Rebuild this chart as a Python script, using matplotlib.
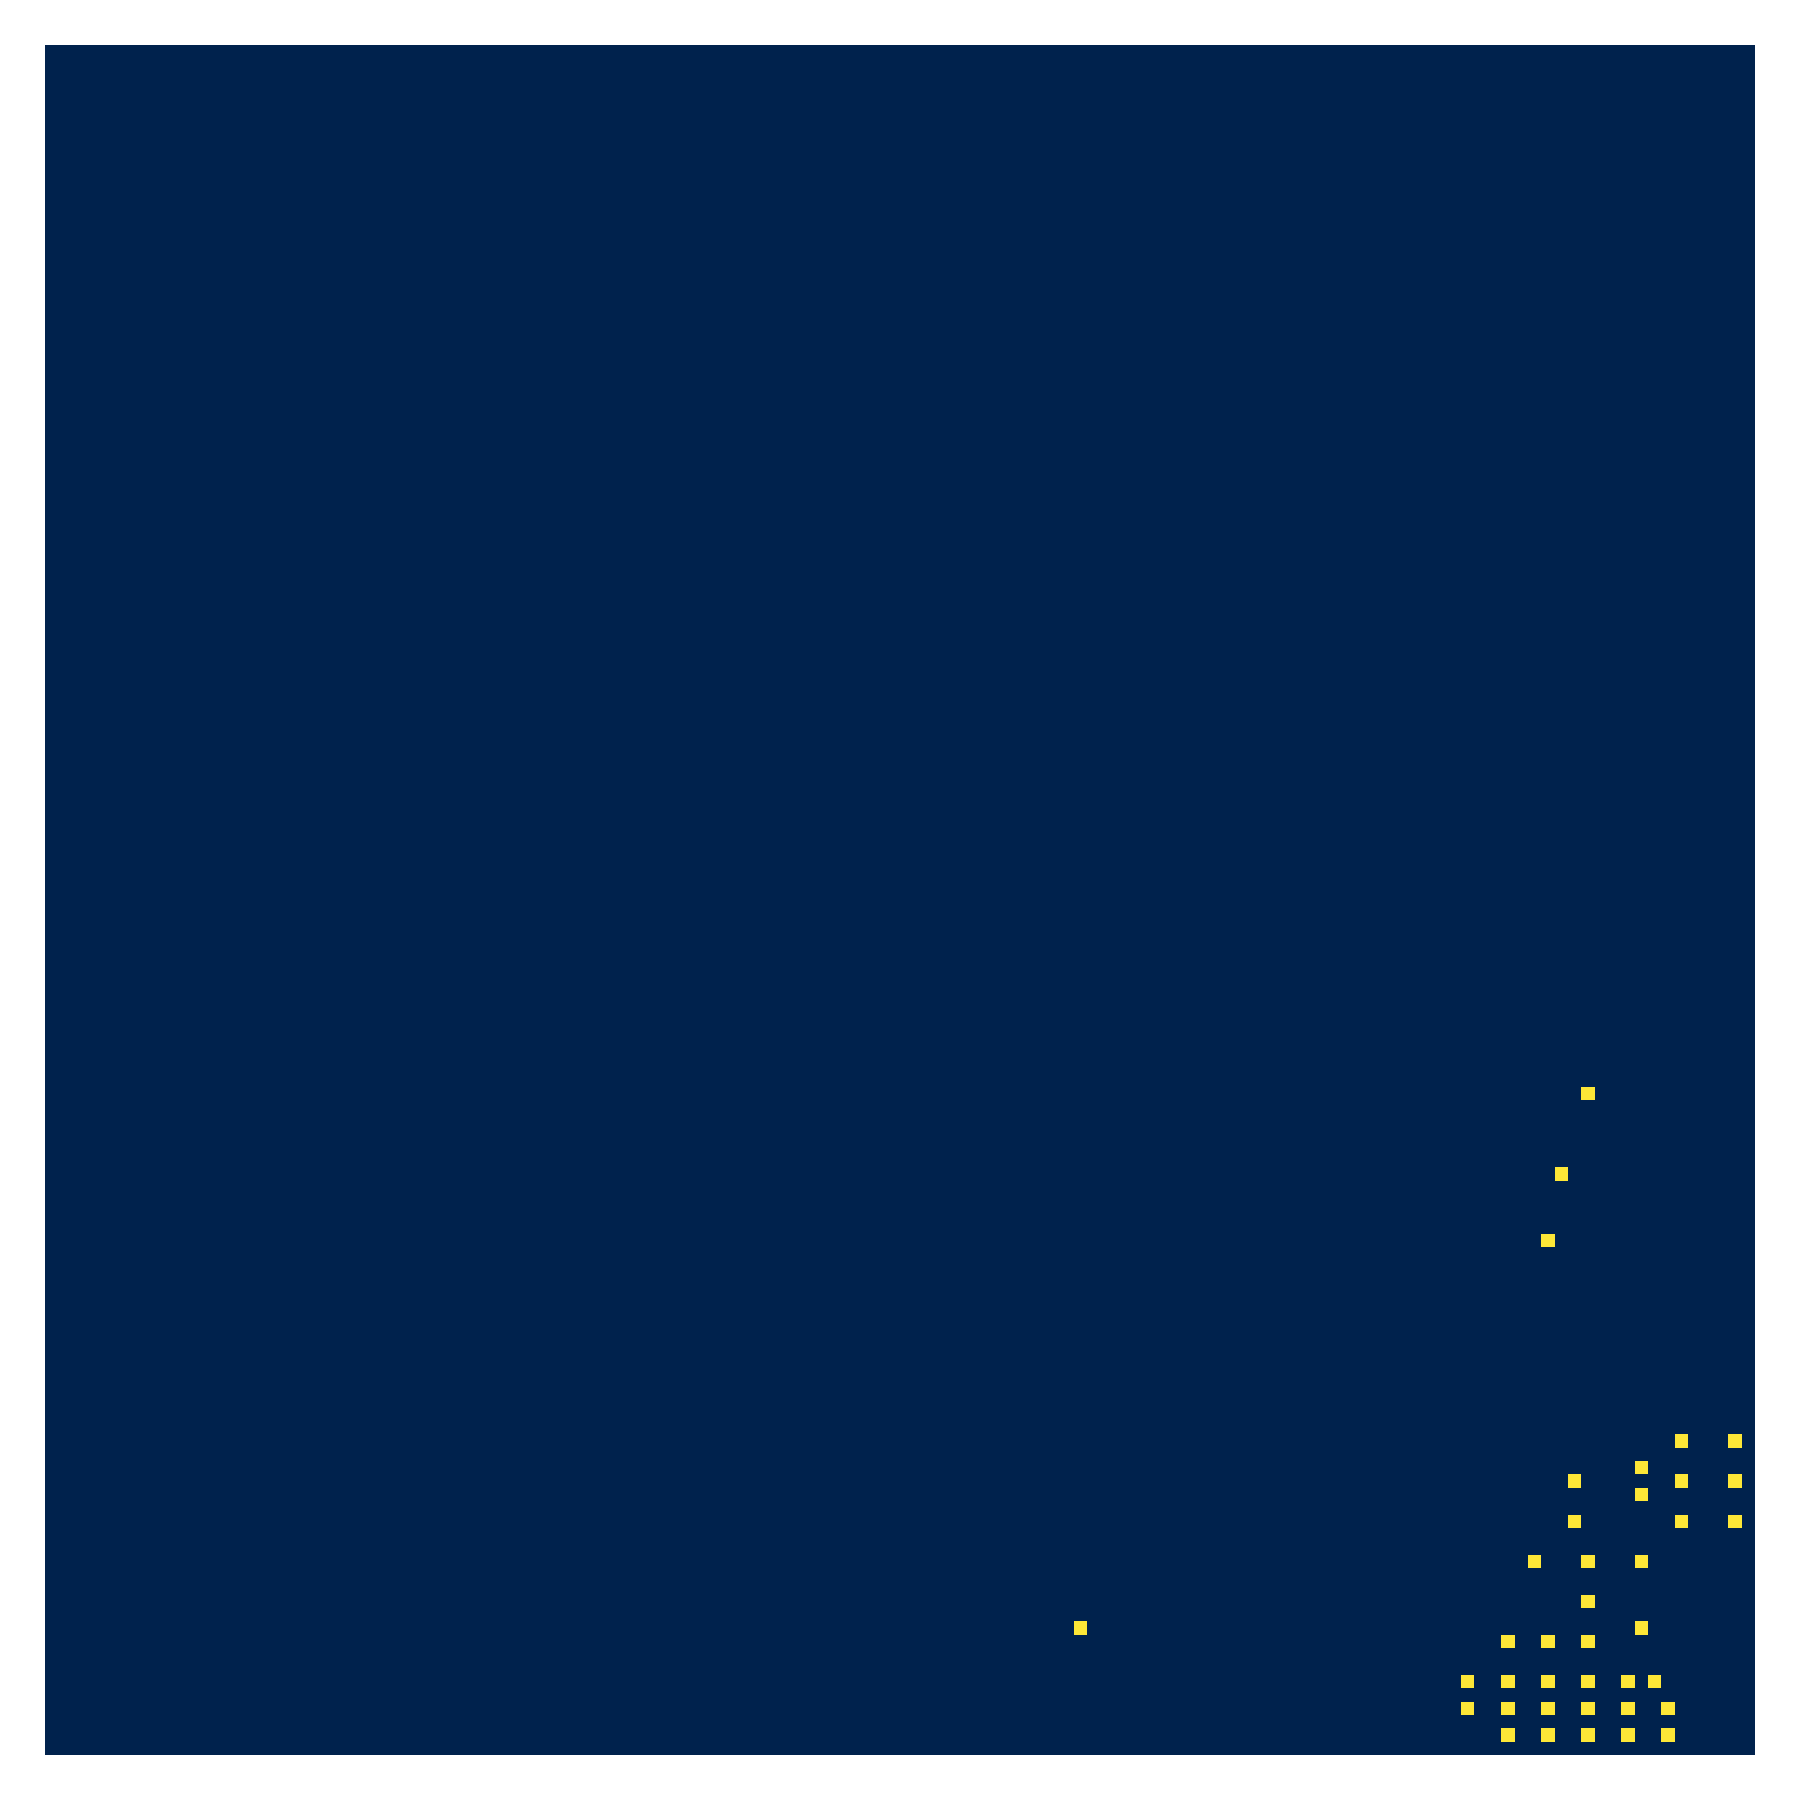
import numpy as np
import matplotlib
matplotlib.use("Agg")
import matplotlib.pyplot as plt

n_size = 128
rows = [78, 84, 89,
        104, 104,
        106,
        107, 107, 107,
        108,
        110, 110, 110,
        113, 113, 113,
        116,
        118, 118,
        119, 119, 119,
        122, 122, 122, 122, 122, 122,
        124, 124, 124, 124, 124, 124,
        126, 126, 126, 126, 126]
cols = [115, 113, 112,
        122, 126,
        119,
        114, 122, 126,
        119,
        114, 122, 126,
        111, 115, 119,
        115,
        77, 119,
        109, 112, 115,
        106, 109, 112, 115, 118, 120,
        106, 109, 112, 115, 118, 121,
        109, 112, 115, 118, 121]
values = [1] * len(rows)

mat = np.zeros((n_size, n_size))
for r, c, v in zip(rows, cols, values):
    mat[r, c] = v

fig = plt.figure(figsize=(18, 18), dpi=100)
ax = fig.add_axes([0.025, 0.025, 0.95, 0.95])
ax.imshow(mat, cmap="cividis", interpolation="nearest", aspect="auto", vmin=0, vmax=1)
ax.set_axis_off()
fig.savefig("out.png", dpi=100)
